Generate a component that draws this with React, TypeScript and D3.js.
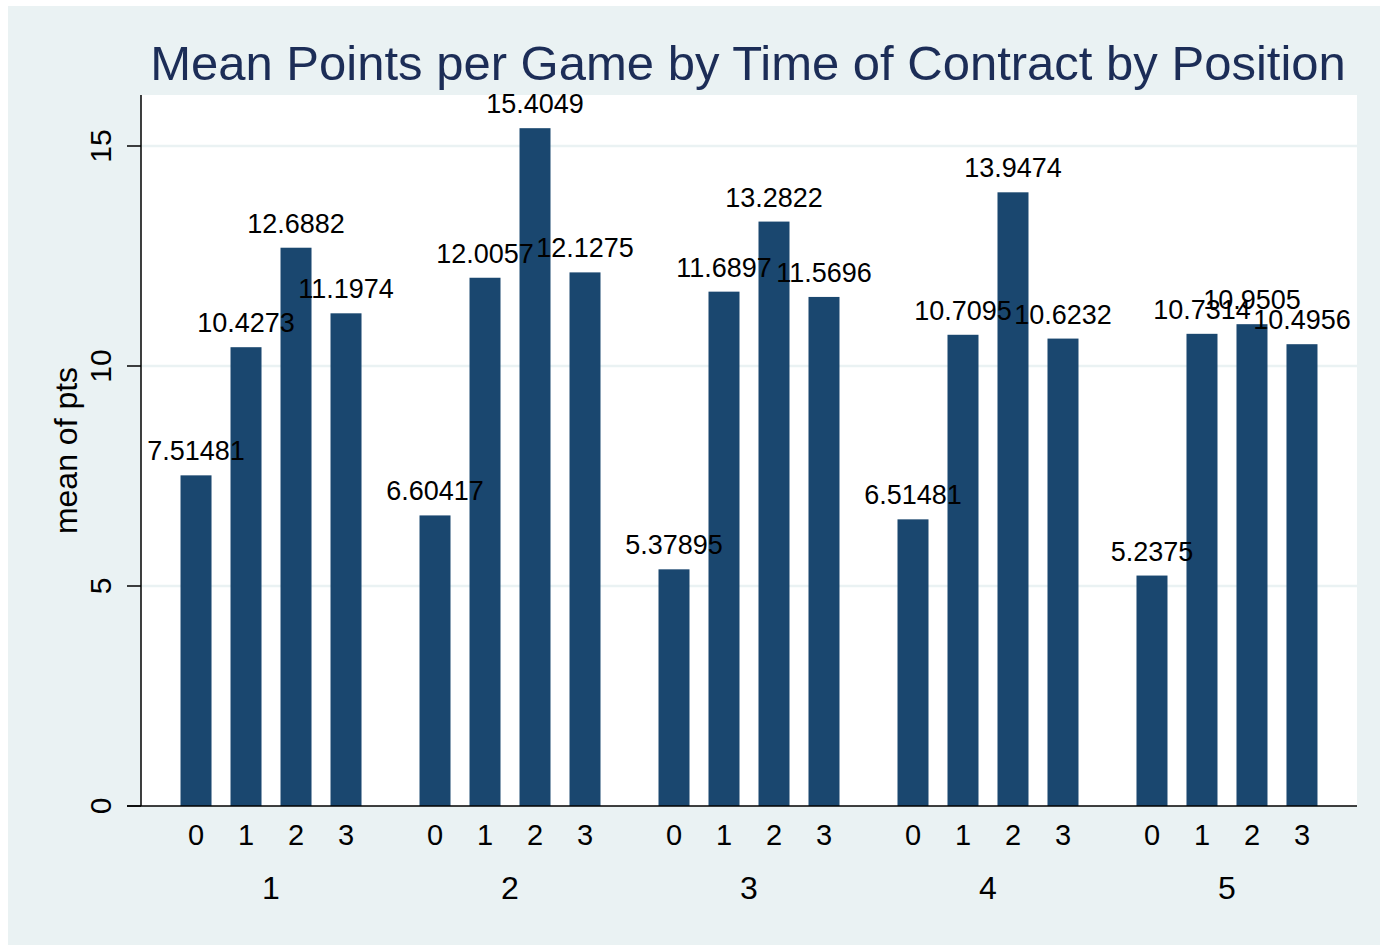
import { format, scaleBand, scaleLinear } from 'd3'

const positions = ['1', '2', '3', '4', '5']
const contractTimes = ['0', '1', '2', '3']
const pos1 = [7.51481, 10.4273, 12.6882, 11.1974]
const pos2 = [6.60417, 12.0057, 15.4049, 12.1275]
const pos3 = [5.37895, 11.6897, 13.2822, 11.5696]
const pos4 = [6.51481, 10.7095, 13.9474, 10.6232]
const pos5 = [5.2375, 10.7314, 10.9505, 10.4956]
const meanPts = [pos1, pos2, pos3, pos4, pos5]
const yTicks = [0, 5, 10, 15]

const title = 'Mean Points per Game by Time of Contract by Position'
const yTitle = 'mean of pts'

const W = 1380
const H = 946
const plot = { left: 141, right: 1357, top: 95, bottom: 806 }
const bg = '#eaf2f3'
const barColor = '#1a476f'
const font = '"Liberation Sans", Arial, Helvetica, sans-serif'
const fmt = format('.6~g')

export default function App() {
  const x0 = scaleBand()
    .domain(positions)
    .range([plot.left, plot.right])
    .paddingInner(0)
    .paddingOuter(0.044)
  const x1 = scaleBand()
    .domain(contractTimes)
    .range([0, x0.bandwidth()])
    .paddingInner(0.38)
    .paddingOuter(0.58)
  const y = scaleLinear().domain([0, 15]).range([plot.bottom, 146])

  // flat list so bars go down first and labels sit on top of all bars
  const cells = positions.flatMap((p, gi) =>
    contractTimes.map((c, ci) => ({
      key: `${p}-${c}`,
      c,
      x: (x0(p) ?? 0) + (x1(c) ?? 0),
      v: meanPts[gi][ci],
    }))
  )
  const bw = x1.bandwidth()

  return (
    <svg
      width={W}
      height={H}
      style={{ position: 'absolute', left: 0, top: 0, fontFamily: font }}
    >
      <rect x={0} y={0} width={W} height={H} fill='#fff' />
      <rect x={8} y={6} width={W - 8} height={939} fill={bg} />
      <rect
        x={plot.left}
        y={plot.top}
        width={plot.right - plot.left}
        height={plot.bottom - plot.top}
        fill='#fff'
      />
      {/* grid */}
      {yTicks.filter(t => t > 0).map(t => (
        <line key={t} x1={plot.left} x2={plot.right} y1={y(t)} y2={y(t)} stroke={bg} strokeWidth={2.5} />
      ))}
      {/* bars */}
      {cells.map(d => (
        <rect key={d.key} x={d.x} y={y(d.v)} width={bw} height={y(0) - y(d.v)} fill={barColor} />
      ))}
      {/* value labels */}
      {cells.map(d => (
        <text key={d.key} x={d.x + bw / 2} y={y(d.v) - 15} textAnchor='middle' fontSize={27} fill='#000'>
          {fmt(d.v)}
        </text>
      ))}
      {/* x labels */}
      {cells.map(d => (
        <text key={d.key} x={d.x + bw / 2} y={845} textAnchor='middle' fontSize={29} fill='#000'>
          {d.c}
        </text>
      ))}
      {positions.map(p => (
        <text key={p} x={(x0(p) ?? 0) + x0.bandwidth() / 2} y={899} textAnchor='middle' fontSize={32} fill='#000'>
          {p}
        </text>
      ))}
      {/* axes */}
      <line x1={plot.left} x2={plot.left} y1={plot.top} y2={plot.bottom} stroke='#000' strokeWidth={1.5} />
      <line x1={127} x2={plot.right} y1={plot.bottom} y2={plot.bottom} stroke='#000' strokeWidth={1.5} />
      {yTicks.map(t => (
        <g key={t}>
          <line x1={127} x2={plot.left} y1={y(t)} y2={y(t)} stroke='#000' strokeWidth={1.5} />
          <text
            transform={`translate(111,${y(t)}) rotate(-90)`}
            textAnchor='middle'
            fontSize={30}
            fill='#000'
          >
            {t}
          </text>
        </g>
      ))}
      <text
        transform={`translate(77,${(plot.top + plot.bottom) / 2}) rotate(-90)`}
        textAnchor='middle'
        fontSize={32}
        fill='#000'
      >
        {yTitle}
      </text>
      <text x={748} y={80} textAnchor='middle' fontSize={49} fill='#1c2d57'>
        {title}
      </text>
    </svg>
  )
}
